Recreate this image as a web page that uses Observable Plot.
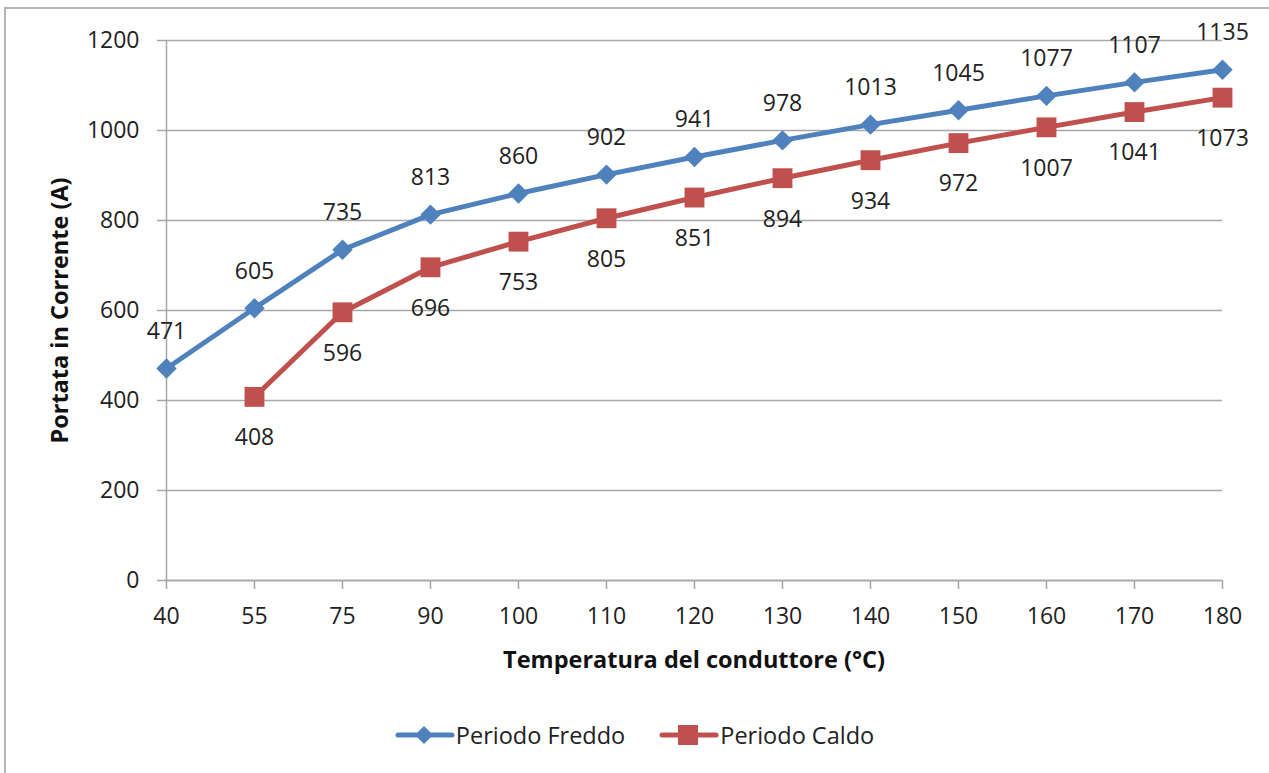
<!DOCTYPE html>
<html>
<head>
<meta charset="utf-8">
<script src="https://cdn.jsdelivr.net/npm/d3@7"></script>
<script src="https://cdn.jsdelivr.net/npm/@observablehq/plot@0.6"></script>
<style>
  html, body { margin: 0; padding: 0; background: #fff; overflow: hidden; }
  body { width: 1269px; height: 773px; position: relative; font-family: "Open Sans", sans-serif; }
  #frame { position: absolute; left: 4px; top: 7px; width: 1400px; height: 900px; border-left: 2px solid #b5b5b5; border-top: 2px solid #b5b5b5; pointer-events: none; }
  #legend { position: absolute; left: 0; width: 1269px; top: 718px; display: flex; justify-content: center; gap: 34px; font-size: 23.5px; color: #222; line-height: 34px; }
  .item { display: flex; align-items: center; }
  .item svg { margin-right: 1px; }
</style>
</head>
<body>
<div id="chart"></div>
<div id="legend"></div>
<div id="frame"></div>
<script>
const temperatures = [40, 55, 75, 90, 100, 110, 120, 130, 140, 150, 160, 170, 180];
const periodoFreddo = [471, 605, 735, 813, 860, 902, 941, 978, 1013, 1045, 1077, 1107, 1135];
const periodoCaldo = [null, 408, 596, 696, 753, 805, 851, 894, 934, 972, 1007, 1041, 1073];
const seriesNames = ["Periodo Freddo", "Periodo Caldo"];
const seriesColors = ["#4F81BD", "#C0504D"];
const yTicks = [0, 200, 400, 600, 800, 1000, 1200];
const xTitle = "Temperatura del conduttore (°C)";
const yTitle = "Portata in Corrente (A)";

const freddo = temperatures.map((t, i) => ({t, v: periodoFreddo[i]}));
const caldo = temperatures.map((t, i) => ({t, v: periodoCaldo[i]})).filter(d => d.v != null);

const grid = "#a6a6a6";
const fs = 23;
const plot = Plot.plot({
  width: 1269,
  height: 700,
  marginLeft: 165,
  marginRight: 47,
  marginTop: 40,
  marginBottom: 120,
  style: {fontFamily: "'Open Sans', sans-serif", fontSize: fs + "px", color: "#222", background: "#fff"},
  x: {type: "point", domain: temperatures, padding: 0, label: null},
  y: {domain: [0, 1200], label: null},
  marks: [
    Plot.gridY(yTicks, {stroke: grid, strokeOpacity: 1, strokeWidth: 1.5}),
    Plot.axisY(yTicks, {tickSize: 8, tickPadding: 18, stroke: grid, strokeWidth: 1.5, fill: "#222", fontSize: fs, label: null, tickFormat: d => String(d)}),
    Plot.axisX({tickSize: 9, tickPadding: 18, stroke: grid, strokeWidth: 1.5, fill: "#222", fontSize: fs, label: null, tickFormat: d => String(d)}),
    Plot.ruleX([temperatures[0]], {stroke: grid, strokeWidth: 1.5}),
    Plot.ruleY([0], {stroke: grid, strokeWidth: 1.5}),
    Plot.line(freddo, {x: "t", y: "v", stroke: seriesColors[0], strokeWidth: 5, strokeLinejoin: "round"}),
    Plot.line(caldo, {x: "t", y: "v", stroke: seriesColors[1], strokeWidth: 5, strokeLinejoin: "round"}),
    Plot.dot(freddo, {x: "t", y: "v", symbol: "diamond2", r: 9.2, fill: seriesColors[0], stroke: "none"}),
    Plot.dot(caldo, {x: "t", y: "v", symbol: "square", r: 11.2, fill: seriesColors[1], stroke: "none"}),
    Plot.text(freddo, {x: "t", y: "v", text: d => String(d.v), dy: -37, fill: "#222", fontSize: fs, lineAnchor: "middle"}),
    Plot.text(caldo, {x: "t", y: "v", text: d => String(d.v), dy: 41, fill: "#222", fontSize: fs, lineAnchor: "middle"}),
    Plot.text([yTitle], {frameAnchor: "left", dx: -105, rotate: -90, textAnchor: "middle", fontWeight: "bold", fontSize: 23.5, fill: "#111", lineAnchor: "middle"}),
    Plot.text([xTitle], {frameAnchor: "bottom", dy: 80, textAnchor: "middle", fontWeight: "bold", fontSize: 23.5, fill: "#111", lineAnchor: "middle"})
  ]
});
document.getElementById("chart").appendChild(plot);

const legend = document.getElementById("legend");
seriesNames.forEach((name, i) => {
  const item = document.createElement("div");
  item.className = "item";
  const marker = i === 0
    ? `<path d="M29,8 L38,17 L29,26 L20,17 Z" fill="${seriesColors[i]}"/>`
    : `<rect x="19" y="7" width="20" height="20" fill="${seriesColors[i]}"/>`;
  item.innerHTML = `<svg width="60" height="34"><line x1="3" x2="57" y1="17" y2="17" stroke="${seriesColors[i]}" stroke-width="5" stroke-linecap="round"/>${marker}</svg><span>${name}</span>`;
  legend.appendChild(item);
});
</script>
</body>
</html>
